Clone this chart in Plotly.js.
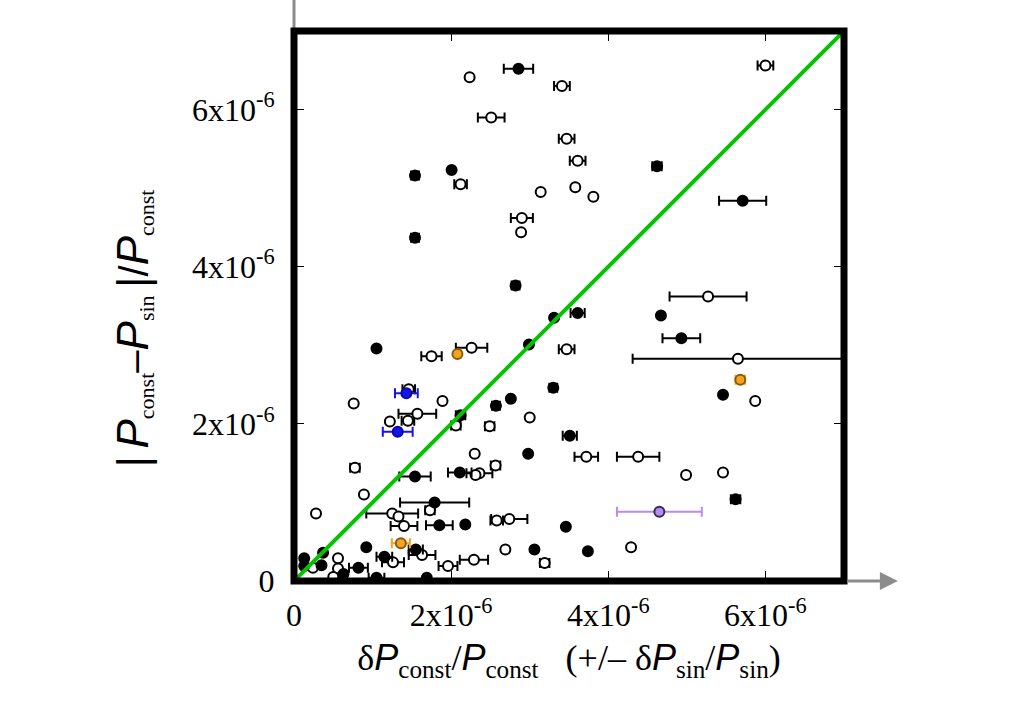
<!DOCTYPE html>
<html>
<head>
<meta charset="utf-8">
<script src="https://cdn.plot.ly/plotly-3.0.1.min.js"></script>
<style>
  body { margin: 0; background: #fff; }
  #chart { width: 1028px; height: 720px; }
</style>
</head>
<body>
<div id="chart"></div>
<script>
// all values in units of 1e-6

// filled points with horizontal error bars
var filledX   = [2.857, 1.54, 1.54, 2.82, 4.62, 5.71, 3.61, 4.93, 3.51, 5.62, 3.30, 2.57, 2.12, 1.54, 2.11, 1.79, 1.85, 1.15, 0.82, 1.05, 1.55];
var filledY   = [6.52, 5.16, 4.37, 3.76, 5.28, 4.84, 3.41, 3.09, 1.85, 1.04, 2.46, 2.23, 2.11, 1.33, 1.38, 1.00, 0.71, 0.31, 0.17, 0.04, 0.40];
var filledErr = [0.187, 0.05, 0.05, 0.05, 0.06, 0.30, 0.09, 0.24, 0.09, 0.06, 0.05, 0.05, 0.06, 0.20, 0.15, 0.44, 0.17, 0.10, 0.12, 0.10, 0.09];

// filled points without error bars
var filledPlainX = [2.006, 4.67, 5.46, 3.46, 3.74, 3.31, 1.05, 2.99, 2.76, 2.98, 2.18, 0.92, 3.06, 0.63, 0.37, 0.35, 0.13, 0.13, 1.69];
var filledPlainY = [5.23, 3.38, 2.37, 0.69, 0.38, 3.35, 2.96, 3.01, 2.32, 1.62, 0.72, 0.43, 0.40, 0.09, 0.36, 0.20, 0.29, 0.19, 0.04];

// open points with horizontal error bars
var openX   = [3.41, 2.51, 3.47, 2.12, 2.90, 6.00, 3.61, 5.27, 3.47, 5.65, 3.72, 4.38, 2.26, 1.75, 1.46, 1.57, 1.45, 2.06, 2.49, 0.775, 2.565, 2.36, 1.25, 1.40, 2.74, 2.58, 1.63, 3.19, 2.29, 1.96, 1.26, 1.73];
var openY   = [6.30, 5.90, 5.63, 5.05, 4.62, 6.56, 5.35, 3.62, 2.95, 2.83, 1.58, 1.58, 2.97, 2.86, 2.44, 2.13, 2.04, 1.98, 1.97, 1.44, 1.47, 1.37, 0.86, 0.70, 0.79, 0.77, 0.33, 0.23, 0.27, 0.19, 0.24, 0.90];
var openErr = [0.10, 0.17, 0.10, 0.08, 0.14, 0.10, 0.10, 0.49, 0.10, 1.34, 0.15, 0.27, 0.20, 0.13, 0.08, 0.24, 0.08, 0.06, 0.06, 0.06, 0.06, 0.165, 0.33, 0.17, 0.23, 0.08, 0.17, 0.06, 0.18, 0.12, 0.14, 0.06];

// open points without error bars
var openPlainX = [2.235, 3.14, 2.89, 3.58, 3.81, 5.87, 4.99, 5.46, 4.29, 0.76, 1.89, 1.22, 3.00, 2.30, 2.31, 0.89, 0.28, 1.33, 2.69, 0.56, 0.56, 0.50, 0.24];
var openPlainY = [6.41, 4.95, 4.44, 5.01, 4.89, 2.29, 1.35, 1.38, 0.43, 2.26, 2.29, 2.03, 2.08, 1.62, 1.35, 1.10, 0.86, 0.82, 0.40, 0.29, 0.16, 0.05, 0.17];

// highlighted points
var orangeX = [5.68, 1.36];
var orangeY = [2.56, 0.48];
var orangeErr = [0.06, 0.115];
var orangePlainX = [2.08];
var orangePlainY = [2.89];
var blueX = [1.43, 1.32];
var blueY = [2.39, 1.90];
var blueErr = [0.145, 0.19];
var purpleX = [4.65];
var purpleY = [0.88];
var purpleErr = [0.54];

// y = x reference line
var diagX = [0, 7];
var diagY = [0, 7];

var tickVals = [0, 2, 4, 6];
var tickText = ['0', '2x10<sup>-6</sup>', '4x10<sup>-6</sup>', '6x10<sup>-6</sup>'];

var serif = 'Liberation Serif, Times New Roman, serif';
var NB = '\u00a0';

// big sans italic P and sans symbols used in the axis titles
function sans(t, size, italic) {
  var s = '<span style="font-family:Liberation Sans;font-size:' + size + 'px">' + t + '</span>';
  return italic ? '<i>' + s + '</i>' : s;
}
// subscript with an explicit size
function sub(t, size) {
  return '<sub><span style="font-size:' + size + 'px">' + t + '</span></sub>';
}
// spacer kept inside a span so it is not trimmed away
function pad(n) {
  var s = '';
  for (var i = 0; i < n; i++) s += NB;
  return '<span>' + s + '</span>';
}
var Px = sans('P', 36, true);
var Py = sans('P', 44, true);
var bar = sans('|', 44, false);

function errTrace(x, y, err, fill, line, barColor) {
  return {
    x: x, y: y, type: 'scatter', mode: 'markers', hoverinfo: 'skip',
    error_x: {type: 'data', array: err, color: barColor, thickness: 2, width: 5},
    marker: {size: 10, color: fill, line: {color: line, width: 2}}
  };
}
function plainTrace(x, y, fill, line) {
  return {
    x: x, y: y, type: 'scatter', mode: 'markers', hoverinfo: 'skip',
    marker: {size: 10, color: fill, line: {color: line, width: 2}}
  };
}

var data = [
  errTrace(openX, openY, openErr, '#ffffff', '#000000', '#000000'),
  plainTrace(openPlainX, openPlainY, '#ffffff', '#000000'),
  errTrace(filledX, filledY, filledErr, '#000000', '#000000', '#000000'),
  plainTrace(filledPlainX, filledPlainY, '#000000', '#000000'),
  errTrace(orangeX, orangeY, orangeErr, '#f5a420', '#8a5a10', '#f5a420'),
  plainTrace(orangePlainX, orangePlainY, '#f5a420', '#8a5a10'),
  errTrace(blueX, blueY, blueErr, '#1414f0', '#0a0aa0', '#1414f0'),
  errTrace(purpleX, purpleY, purpleErr, '#b58cf0', '#3a2a55', '#b58cf0'),
  {x: diagX, y: diagY, type: 'scatter', mode: 'lines', hoverinfo: 'skip',
   line: {color: '#00c400', width: 4}}
];

var axisCommon = {
  range: [0, 7],
  tickvals: tickVals,
  ticktext: tickText,
  ticks: 'inside',
  ticklen: 10,
  tickwidth: 1,
  tickcolor: '#000',
  mirror: 'ticks',
  showline: true,
  linewidth: 1,
  linecolor: '#000',
  showgrid: false,
  zeroline: false,
  tickfont: {family: serif, size: 32, color: '#000'},
  fixedrange: true
};

var layout = {
  width: 1028,
  height: 720,
  margin: {l: 294, r: 184, t: 31, b: 139},
  paper_bgcolor: '#fff',
  plot_bgcolor: '#fff',
  showlegend: false,
  xaxis: Object.assign({}, axisCommon, {
    ticklabelstandoff: 6,
    title: {
      text: '\u03b4' + Px + '<sub>const</sub>/' + Px + '<sub>const</sub>' + NB + NB + NB +
            '(+/\u2013 \u03b4' + Px + '<sub>sin</sub>/' + Px + '<sub>sin</sub>)',
      font: {family: serif, size: 36, color: '#000'},
      standoff: 12
    }
  }),
  yaxis: Object.assign({}, axisCommon, {
    ticklabelstandoff: 12,
    title: {
      text: bar + NB + Py + sub('const', 22) + sans('\u2013', 40, false) + Py + sub('sin', 22) + NB +
            bar + sans('/', 40, false) + Py + sub('const', 22) + pad(6),
      font: {family: serif, size: 30, color: '#000'},
      standoff: 34
    }
  }),
  shapes: [
    // gray axis arrow shaft going up off the top
    {type: 'line', xref: 'paper', yref: 'paper', x0: 0, x1: 0, y0: 1, y1: 1.08,
     line: {color: '#8c8c8c', width: 3}, layer: 'above'},
    // thick frame
    {type: 'rect', xref: 'paper', yref: 'paper', x0: 0, y0: 0, x1: 1, y1: 1,
     line: {color: '#000', width: 7}, layer: 'above'}
  ],
  annotations: [
    {xref: 'paper', yref: 'paper', x: 1.098, y: 0, text: '', showarrow: true,
     axref: 'pixel', ayref: 'pixel', ax: -52, ay: 0,
     arrowhead: 2, arrowsize: 1.2, arrowwidth: 3, arrowcolor: '#8c8c8c', standoff: 0}
  ]
};

Plotly.newPlot('chart', data, layout, {displayModeBar: false, staticPlot: true});
</script>
</body>
</html>
